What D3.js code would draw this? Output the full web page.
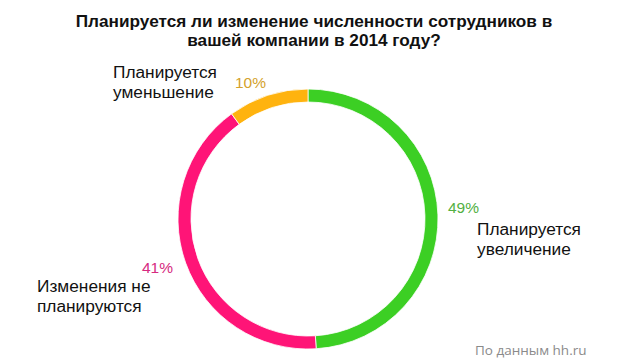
<!DOCTYPE html>
<html><head><meta charset="utf-8">
<script src="https://cdn.jsdelivr.net/npm/d3@7"></script>
<style>body{margin:0;background:#fff}svg{display:block}</style>
</head><body>
<script>
const titleLines = ["Планируется ли изменение численности сотрудников в", "вашей компании в 2014 году?"];
const categories = ["Планируется увеличение", "Изменения не планируются", "Планируется уменьшение"];
const values = [49, 41, 10];
const colors = ["#3ccf24", "#ff1477", "#ffb30f"];
const labelColors = ["#52b042", "#d62a80", "#d4a22c"];
const source = "По данным hh.ru";

const W = 620, H = 361;
const svg = d3.select("body").append("svg").attr("width", W).attr("height", H);
const cx = 308, cy = 219, R = 130, r = 117;

svg.append("text").attr("x", 314).attr("y", 27).attr("text-anchor", "middle")
  .attr("font-family", "Liberation Sans, Arial, sans-serif").attr("font-weight", "bold")
  .attr("font-size", 17.2).attr("fill", "#111")
  .selectAll("tspan").data(titleLines).join("tspan")
  .attr("x", 314).attr("dy", (d, i) => i ? 19 : 0).text(d => d);

const pie = d3.pie().sort(null).value(d => d);
const arcs = pie(values);
const arc = d3.arc().innerRadius(r).outerRadius(R);
const g = svg.append("g").attr("transform", `translate(${cx},${cy})`);
g.selectAll("path").data(arcs).join("path")
  .attr("d", arc).attr("fill", (d, i) => colors[i])
  .attr("stroke", "#fff").attr("stroke-width", 0.8);

const labelPos = [
  {px: 448, py: 213, nx: 477, ny: 235},
  {px: 142, py: 273, nx: 37, ny: 292},
  {px: 235, py: 88, nx: 113, ny: 78}
];
const nameLines = [["Планируется", "увеличение"], ["Изменения не", "планируются"], ["Планируется", "уменьшение"]];
const font = "Liberation Sans, Arial, sans-serif";
labelPos.forEach((p, i) => {
  svg.append("text").attr("x", p.px).attr("y", p.py)
    .attr("font-family", font).attr("font-size", 15.5).attr("fill", labelColors[i])
    .text(values[i] + "%");
  const t = svg.append("text").attr("font-family", font).attr("font-size", 17.3).attr("fill", "#111");
  nameLines[i].forEach((l, j) => t.append("tspan").attr("x", p.nx).attr("y", p.ny + j * 19.5).text(l));
});

svg.append("text").attr("x", 475).attr("y", 355).attr("font-family", "Open Sans, sans-serif")
  .attr("font-size", 13.5).attr("fill", "#8a8a8a").text(source);
</script>
</body></html>
